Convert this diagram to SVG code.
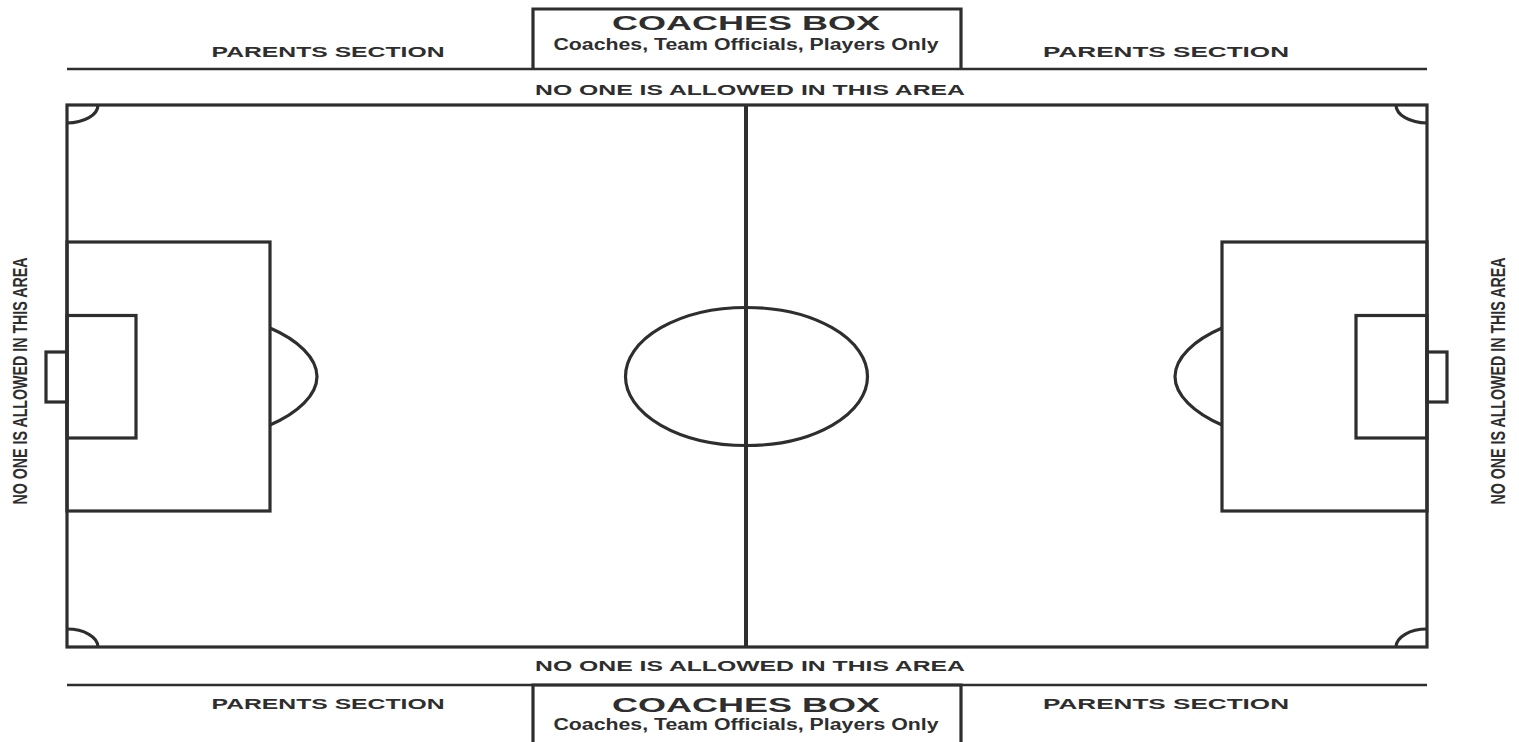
<svg xmlns="http://www.w3.org/2000/svg" width="1519" height="742" viewBox="0 0 1519 742">
<style>
.ln{fill:none;stroke:#2e2e2e;stroke-width:3.2}
.thin{fill:none;stroke:#2e2e2e;stroke-width:2.5}
.t{font-family:"Liberation Sans",Arial,sans-serif;font-weight:bold;fill:#2e2e2e}
.wide{font-size:15px}
.cb{font-size:21px}
.sub{font-size:16px}
.vt{font-family:"Liberation Sans",Arial,sans-serif;font-weight:bold;font-size:20px;fill:#2e2e2e}
</style>
<rect width="1519" height="742" fill="#fff"/>
<g id="top-area">
  <line class="thin" x1="67" y1="69" x2="1427" y2="69"/>
  <polyline class="ln" points="533,69 533,9 961,9 961,69"/>
  <text class="t cb" x="746" y="30" text-anchor="middle" textLength="268" lengthAdjust="spacingAndGlyphs">COACHES BOX</text>
  <text class="t sub" x="746" y="50" text-anchor="middle" textLength="385" lengthAdjust="spacingAndGlyphs">Coaches, Team Officials, Players Only</text>
  <text class="t wide" x="328" y="57" text-anchor="middle" textLength="233" lengthAdjust="spacingAndGlyphs">PARENTS SECTION</text>
  <text class="t wide" x="1166" y="57" text-anchor="middle" textLength="246" lengthAdjust="spacingAndGlyphs">PARENTS SECTION</text>
  <text class="t wide" x="750" y="95" text-anchor="middle" textLength="430" lengthAdjust="spacingAndGlyphs">NO ONE IS ALLOWED IN THIS AREA</text>
</g>
<g id="bottom-area">
  <line class="thin" x1="67" y1="685" x2="1427" y2="685"/>
  <polyline class="ln" points="533,742 533,685 961,685 961,742"/>
  <text class="t cb" x="746" y="712" text-anchor="middle" textLength="268" lengthAdjust="spacingAndGlyphs">COACHES BOX</text>
  <text class="t sub" x="746" y="730" text-anchor="middle" textLength="385" lengthAdjust="spacingAndGlyphs">Coaches, Team Officials, Players Only</text>
  <text class="t wide" x="328" y="709" text-anchor="middle" textLength="233" lengthAdjust="spacingAndGlyphs">PARENTS SECTION</text>
  <text class="t wide" x="1166" y="709" text-anchor="middle" textLength="246" lengthAdjust="spacingAndGlyphs">PARENTS SECTION</text>
  <text class="t wide" x="750" y="671" text-anchor="middle" textLength="430" lengthAdjust="spacingAndGlyphs">NO ONE IS ALLOWED IN THIS AREA</text>
</g>
<g id="side-left">
  <text class="vt" transform="translate(27,381) rotate(-90)" text-anchor="middle" textLength="247" lengthAdjust="spacingAndGlyphs">NO ONE IS ALLOWED IN THIS AREA</text>
</g>
<g id="side-right">
  <text class="vt" transform="translate(1505,381) rotate(-90)" text-anchor="middle" textLength="247" lengthAdjust="spacingAndGlyphs">NO ONE IS ALLOWED IN THIS AREA</text>
</g>
<g id="field">
  <rect class="ln" x="67" y="105" width="1360" height="542"/>
  <line class="ln" x1="746" y1="105" x2="746" y2="647" style="stroke-width:4"/>
  <ellipse class="ln" cx="746.5" cy="376.5" rx="121" ry="69"/>
  <path class="ln" d="M98,105 A31,18 0 0 1 67,123"/>
  <path class="ln" d="M1396,105 A31,18 0 0 0 1427,123"/>
  <path class="ln" d="M67,629 A31,18 0 0 1 98,647"/>
  <path class="ln" d="M1427,629 A31,18 0 0 0 1396,647"/>
</g>
<g id="left-goal">
  <rect class="ln" x="67" y="242" width="203" height="269"/>
  <rect class="ln" x="67" y="315.5" width="69" height="122.5"/>
  <rect class="ln" x="46" y="352" width="21" height="50"/>
  <path class="ln" d="M270,328 C298,340 317,358 317,376.5 C317,395 298,413 270,425"/>
</g>
<g id="right-goal">
  <rect class="ln" x="1222" y="242" width="205" height="269"/>
  <rect class="ln" x="1356" y="315.5" width="71" height="122.5"/>
  <rect class="ln" x="1427" y="352" width="20" height="50"/>
  <path class="ln" d="M1222,328 C1194,340 1175,358 1175,376.5 C1175,395 1194,413 1222,425"/>
</g>
</svg>
